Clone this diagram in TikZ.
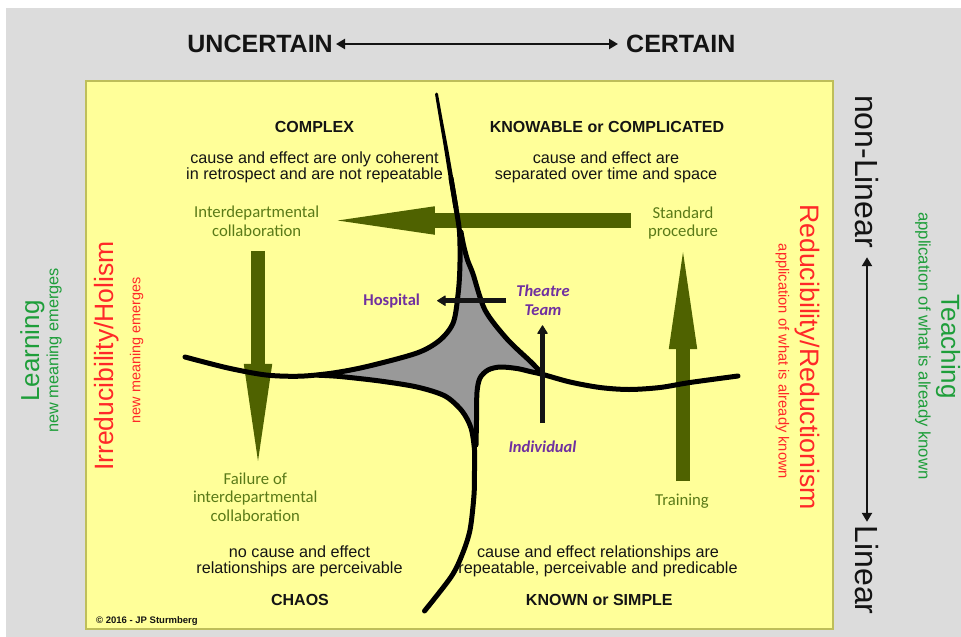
\documentclass[tikz,border=0pt]{standalone}
\usepackage{fontspec}
\setmainfont{Liberation Sans}
\newfontfamily\calib{Carlito}
\usetikzlibrary{arrows.meta}

\definecolor{ink}{RGB}{20,20,20}
\definecolor{bgray}{RGB}{220,220,220}
\definecolor{pad}{RGB}{255,255,153}
\definecolor{padedge}{RGB}{190,190,90}
\definecolor{arrowgreen}{RGB}{79,98,0}
\definecolor{labelgreen}{RGB}{90,122,24}
\definecolor{sidegreen}{RGB}{30,158,58}
\definecolor{sidered}{RGB}{255,40,40}
\definecolor{teampurple}{RGB}{112,48,160}
\definecolor{hubgray}{RGB}{153,153,153}

\tikzset{
  every node/.style={inner sep=0pt},
  qtitle/.style={font=\bfseries\fontsize{16}{16}\selectfont, text=ink},
  qdesc/.style={font=\fontsize{16.2}{16}\selectfont, align=center, text=ink},
  glabel/.style={font=\calib\fontsize{16.7}{18.5}\selectfont, align=center, text=labelgreen},
  plabel/.style={font=\calib\bfseries\fontsize{16.5}{19}\selectfont, align=center, text=teampurple},
  pital/.style={font=\calib\bfseries\itshape\fontsize{16.5}{19}\selectfont, align=center, text=teampurple},
  axislabel/.style={font=\bfseries\fontsize{25}{25}\selectfont, text=ink},
  sideaxis/.style={font=\fontsize{32}{32}\selectfont, text=ink, rotate=-90},
  axisarrow/.style={draw=ink, line width=2.4pt,
    {Triangle[length=9pt,width=10pt]}-{Triangle[length=9pt,width=10pt]}},
  flowarrow/.style={draw=arrowgreen, line width=14.5pt,
    -{Triangle[length=97pt,width=28.5pt,line width=0pt]}},
  pointer/.style={draw=ink, line width=4.5pt,
    -{Triangle[length=9pt,width=11pt,round,line width=1pt]}},
  sensecurve/.style={draw=black, line width=5pt, line cap=round, line join=round},
}

\begin{document}
\begin{tikzpicture}[x=1pt,y=-1pt]
\useasboundingbox (0,0) rectangle (961,637);

% backdrop and the yellow pad
\fill[white] (0,0) rectangle (961,637);
\fill[bgray] (6,8) rectangle (961,637);
\filldraw[fill=pad, draw=padedge, line width=1.5pt] (86,81) rectangle (833,629);

% grey hub between the four domains
\fill[hubgray]
  plot[smooth] coordinates {(461,234) (460,262) (458.5,290) (453.5,322) (440,340) (417,353) (367,366.5) (333,373) (318,375)}
  -- plot[smooth] coordinates {(318,375) (340,376.5) (380,381) (417,387) (445,396) (462,411) (471,428) (475,448)}
  -- plot[smooth] coordinates {(475,448) (476.5,420) (477,392) (480,378) (488,370) (500,367) (517,368.5) (530,371.5) (543,374.5)}
  -- plot[smooth] coordinates {(543,374.5) (531,362) (507,339) (485,310) (473,274) (467.5,260) (463.5,245) (461,234)}
  -- cycle;

% labels
\node[axislabel, anchor=east] (unc) at (333,44) {UNCERTAIN};
\node[axislabel, anchor=west] (cer) at (626,44) {CERTAIN};
\node[sideaxis] (nonlin) at (867,171.5) {non-Linear};
\node[sideaxis] (lin) at (867,570) {Linear};

\node[qtitle] (complex) at (314.5,126.7) {COMPLEX};
\node[qtitle] (knowable) at (607,126.7) {KNOWABLE or COMPLICATED};
\node[qdesc] (complexd) at (314.5,167.5) {cause and effect are only coherent\\in retrospect and are not repeatable};
\node[qdesc] (knowd) at (606,167.5) {cause and effect are\\separated over time and space};
\node[qdesc] (chaosd) at (299.5,561.5) {no cause and effect\\relationships are perceivable};
\node[qtitle] (chaos) at (300,600) {CHAOS};
\node[qdesc] (simpled) at (598,561.5) {cause and effect relationships are\\repeatable, perceivable and predicable};
\node[qtitle] (simple) at (599.3,600) {KNOWN or SIMPLE};

\node[glabel] (inter) at (256.7,221.5) {Interdepartmental\\collaboration};
\node[glabel] (std) at (683,223.2) {Standard\\procedure};
\node[glabel] (fail) at (255.3,497) {Failure of\\interdepartmental\\collaboration};
\node[glabel] (train) at (682,501.5) {Training};

\node[plabel] (hosp) at (391.7,300.7) {Hospital};
\node[pital] (team) at (543,300.3) {Theatre\\Team};
\node[pital] (indiv) at (542.5,446.5) {Individual};

\node[font=\fontsize{26}{26}\selectfont, text=sidegreen, rotate=90] (learn) at (32.5,351) {Learning};
\node[font=\fontsize{16.3}{16.3}\selectfont, text=sidegreen, rotate=90] (learnsub) at (54.2,350.5) {new meaning emerges};
\node[font=\fontsize{26.5}{26.5}\selectfont, text=sidered, rotate=90] (irred) at (106.7,356) {Irreducibility/Holism};
\node[font=\fontsize{14.4}{14.4}\selectfont, text=sidered, rotate=90] (irredsub) at (136.7,350.5) {new meaning emerges};
\node[font=\fontsize{26.7}{26.7}\selectfont, text=sidered, rotate=-90] (reduc) at (807,357) {Reducibility/Reductionism};
\node[font=\fontsize{14.7}{14.7}\selectfont, text=sidered, rotate=-90] (reducsub) at (782.5,361.5) {application of what is already known};
\node[font=\fontsize{26}{26}\selectfont, text=sidegreen, rotate=-90] (teach) at (948,346.8) {Teaching};
\node[font=\fontsize{16.7}{16.7}\selectfont, text=sidegreen, rotate=-90] (teachsub) at (923,346) {application of what is already known};

\node[font=\bfseries\fontsize{9.5}{10}\selectfont, text=ink] (copy) at (147,621) {© 2016 - JP Sturmberg};

% green movements between domains
\draw[flowarrow, shorten <=16.7pt, shorten >=18.4pt]
  ([yshift=2.7pt]std.west) -- ([yshift=2.7pt]std.west -| inter.east);
\draw[flowarrow, shorten <=14pt, shorten >=11.5pt]
  ([xshift=1.3pt]inter.south) -- ([xshift=1.3pt]inter.south |- fail.north);
\draw[flowarrow, shorten <=13pt, shorten >=12.4pt]
  ([xshift=1pt]train.north) -- ([xshift=1pt]train.north |- std.south);

% boundaries of the four domains; the top stroke narrows towards its end
\fill[black]
  plot[smooth] coordinates {(435,94) (439.3,120) (444,148) (448.75,178) (453.5,208)}
  -- plot[smooth] coordinates {(458.5,208) (453.25,178) (448,148) (442.7,120) (438,94)}
  -- cycle;
\fill[black] (436.5,94) circle (1.5);
\draw[sensecurve] plot[smooth] coordinates {(451,178) (456,208) (459.5,232) (460,262) (458.5,290) (453.5,322) (440,340) (417,353) (367,366.5) (333,373) (300,376.2) (266,375) (228,368) (185,357)};
\draw[sensecurve] plot[smooth] coordinates {(318,375.2) (340,376.5) (380,381) (417,387) (445,396) (462,411) (471,428) (474.5,450) (474.5,470) (474,495) (470,530) (462,555) (451,577) (424.5,611)};
\draw[sensecurve] plot[smooth] coordinates {(476,445) (476.5,420) (477,392) (480,378) (488,370) (500,367) (517,368.5) (530,371.5) (543,374.5) (570,382) (600,387.5) (629,389.5) (660,387.5) (690,382.5) (738,376)};
\draw[sensecurve] plot[smooth] coordinates {(461,232) (463.5,245) (467.5,260) (473,274) (485,310) (507,339) (531,362) (543,374.5)};

% black pointers
\draw[pointer, shorten <=9.7pt, shorten >=17pt] (team.west |- hosp.east) -- (hosp.east);
\draw[pointer, shorten <=17.4pt, shorten >=9.5pt] (indiv.north) -- (indiv.north |- team.south);

% axes
\draw[axisarrow, shorten <=3pt, shorten >=8pt] (unc.east) -- (cer.west);
\draw[axisarrow, shorten <=9pt, shorten >=3.5pt] (nonlin.east) -- (lin.west);
\end{tikzpicture}
\end{document}
